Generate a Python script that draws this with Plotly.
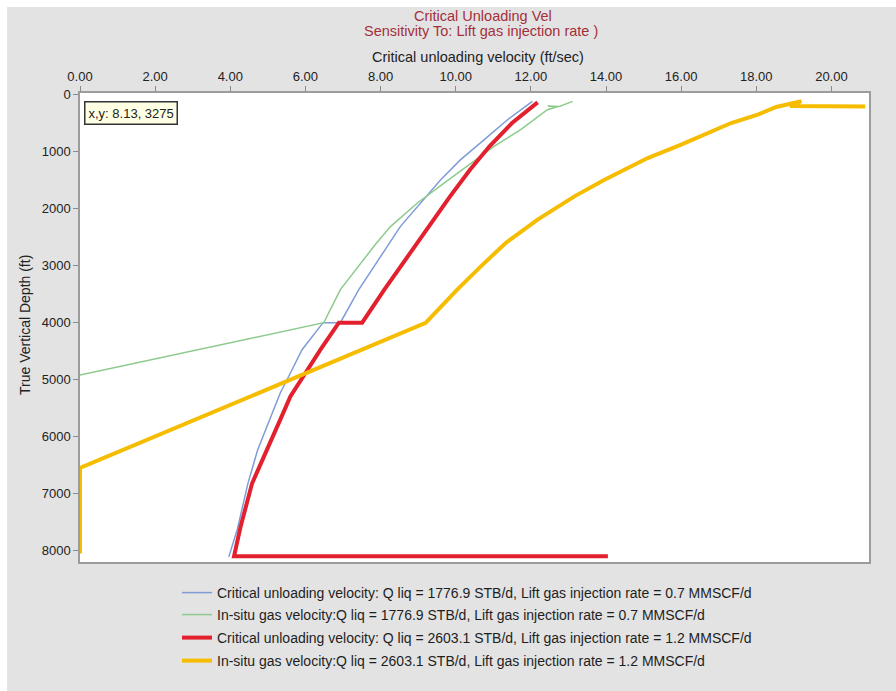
import plotly.graph_objects as go

# ---- data (velocity ft/sec, depth ft) ----
blue_x = [12.04, 11.38, 10.76, 10.13, 9.60, 9.07, 8.53, 7.42, 6.93, 6.47, 5.91, 5.60, 5.33, 4.73, 4.47, 4.19, 3.96]
blue_y = [117, 439, 789, 1140, 1491, 1900, 2310, 3421, 4000, 4000, 4474, 4883, 5234, 6228, 6820, 7620, 8110]

green_x = [13.11, 12.76, 12.45, 12.70, 12.44, 11.73, 11.02, 10.40, 9.69, 8.98, 8.27, 7.87, 6.93, 6.49, 0.0]
green_y = [117, 205, 200, 212, 263, 614, 906, 1199, 1550, 1900, 2310, 2620, 3421, 4000, 4920]

red_x = [12.18, 11.50, 10.90, 10.38, 9.85, 9.47, 9.23, 8.62, 8.10, 7.51, 6.89, 6.40, 5.60, 5.33, 4.99, 4.58, 4.27, 4.10, 14.05]
red_y = [135, 497, 906, 1316, 1784, 2135, 2368, 2950, 3421, 4000, 4000, 4474, 5293, 5702, 6228, 6820, 7590, 8100, 8100]

yellow_x = [20.90, 18.90, 19.20, 18.53, 18.04, 17.33, 16.00, 15.11, 13.96, 13.16, 12.18, 11.33, 10.67, 10.04, 9.20, 0.0, 0.0]
yellow_y = [205, 200, 115, 216, 351, 497, 877, 1111, 1491, 1784, 2193, 2602, 3012, 3421, 4005, 6550, 8050]

series_names = [
    "Critical unloading velocity: Q liq = 1776.9 STB/d, Lift gas injection rate = 0.7 MMSCF/d",
    "In-situ gas velocity:Q liq = 1776.9 STB/d, Lift gas injection rate = 0.7 MMSCF/d",
    "Critical unloading velocity: Q liq = 2603.1 STB/d, Lift gas injection rate = 1.2 MMSCF/d",
    "In-situ gas velocity:Q liq = 2603.1 STB/d, Lift gas injection rate = 1.2 MMSCF/d",
]
x_ticks = [0, 2, 4, 6, 8, 10, 12, 14, 16, 18, 20]
y_ticks = [0, 1000, 2000, 3000, 4000, 5000, 6000, 7000, 8000]

FONT = "Liberation Sans, Arial, sans-serif"
W, H = 896, 691
L, R, T, B = 80, 27, 93, 129
PW, PH = W - L - R, H - T - B

def px_x(p):
    return (p - L) / PW

def px_y(p):
    return (H - B - p) / PH

fig = go.Figure()
styles = [("#7f9bd8", 1.5), ("#8ccb8c", 1.5), ("#e2202e", 4), ("#f6bd00", 4)]
data = [(blue_x, blue_y), (green_x, green_y), (red_x, red_y), (yellow_x, yellow_y)]
legend_ids = ["legend", "legend2", "legend3", "legend4"]
for (xs, ys), (c, w), name, lg in zip(data, styles, series_names, legend_ids):
    fig.add_trace(go.Scatter(x=xs, y=ys, mode="lines", name=name,
                             line=dict(color=c, width=w), legend=lg,
                             showlegend=True, hoverinfo="skip"))

row_y = [593, 615, 638, 661]
leg_common = dict(bgcolor="rgba(0,0,0,0)", font=dict(family=FONT, size=14, color="#1e1e1e"),
                  xanchor="left", yanchor="middle", orientation="v")
layout_legends = {}
for lg, ry in zip(legend_ids, row_y):
    layout_legends[lg] = dict(leg_common, x=px_x(177), y=px_y(ry))

axis_line = "#9c9c9c"
fig.update_layout(
    width=W, height=H,
    margin=dict(l=L, r=R, t=T, b=B, pad=0),
    paper_bgcolor="#e3e3e3",
    plot_bgcolor="#ffffff",
    font=dict(family=FONT, size=13, color="#222222"),
    xaxis=dict(side="top", range=[0, 21.0], tickvals=x_ticks, tickformat=".2f",
               ticks="outside", ticklen=5, tickcolor="#8a8a8a",
               showline=True, linecolor=axis_line, linewidth=1.5, mirror=True,
               showgrid=False, zeroline=False,
               tickfont=dict(family=FONT, size=13, color="#222222")),
    yaxis=dict(range=[8200, -30], tickvals=y_ticks,
               ticks="outside", ticklen=5, tickcolor="#8a8a8a",
               showline=True, linecolor=axis_line, linewidth=1.5, mirror=True,
               showgrid=False, zeroline=False,
               tickfont=dict(family=FONT, size=13, color="#222222")),
    showlegend=True,
    **layout_legends,
)

annotations = [
    dict(text="Critical Unloading Vel", x=px_x(483), y=px_y(16), xref="paper", yref="paper",
         showarrow=False, xanchor="center", yanchor="middle",
         font=dict(family=FONT, size=14.5, color="#a3303a")),
    dict(text="Sensitivity To: Lift gas injection rate )", x=px_x(481), y=px_y(31), xref="paper", yref="paper",
         showarrow=False, xanchor="center", yanchor="middle",
         font=dict(family=FONT, size=14.5, color="#a3303a")),
    dict(text="Critical unloading velocity (ft/sec)", x=px_x(478), y=px_y(57), xref="paper", yref="paper",
         showarrow=False, xanchor="center", yanchor="middle",
         font=dict(family=FONT, size=14.5, color="#222222")),
    dict(text="True Vertical Depth (ft)", x=px_x(25), y=px_y(325), xref="paper", yref="paper",
         showarrow=False, xanchor="center", yanchor="middle", textangle=-90,
         font=dict(family=FONT, size=14, color="#222222")),
    dict(text="x,y: 8.13, 3275", x=px_x(84), y=px_y(101), xref="paper", yref="paper",
         showarrow=False, xanchor="left", yanchor="top",
         bgcolor="#ffffe4", bordercolor="#333333", borderwidth=1.5, borderpad=3,
         font=dict(family=FONT, size=13, color="#222222")),
]
fig.update_layout(annotations=annotations)

# white strips at top and left edge of the window frame
fig.add_shape(type="rect", xref="paper", yref="paper",
              x0=px_x(0), x1=px_x(W), y0=px_y(7), y1=px_y(0),
              fillcolor="#ffffff", line=dict(width=0), layer="below")
fig.add_shape(type="rect", xref="paper", yref="paper",
              x0=px_x(0), x1=px_x(7), y0=px_y(H), y1=px_y(0),
              fillcolor="#ffffff", line=dict(width=0), layer="below")

fig.write_html("out.html", config={"displayModeBar": False},
               post_script="document.body.style.margin='0';document.body.style.overflow='hidden';"
                           "document.body.style.background='#e3e3e3';")
